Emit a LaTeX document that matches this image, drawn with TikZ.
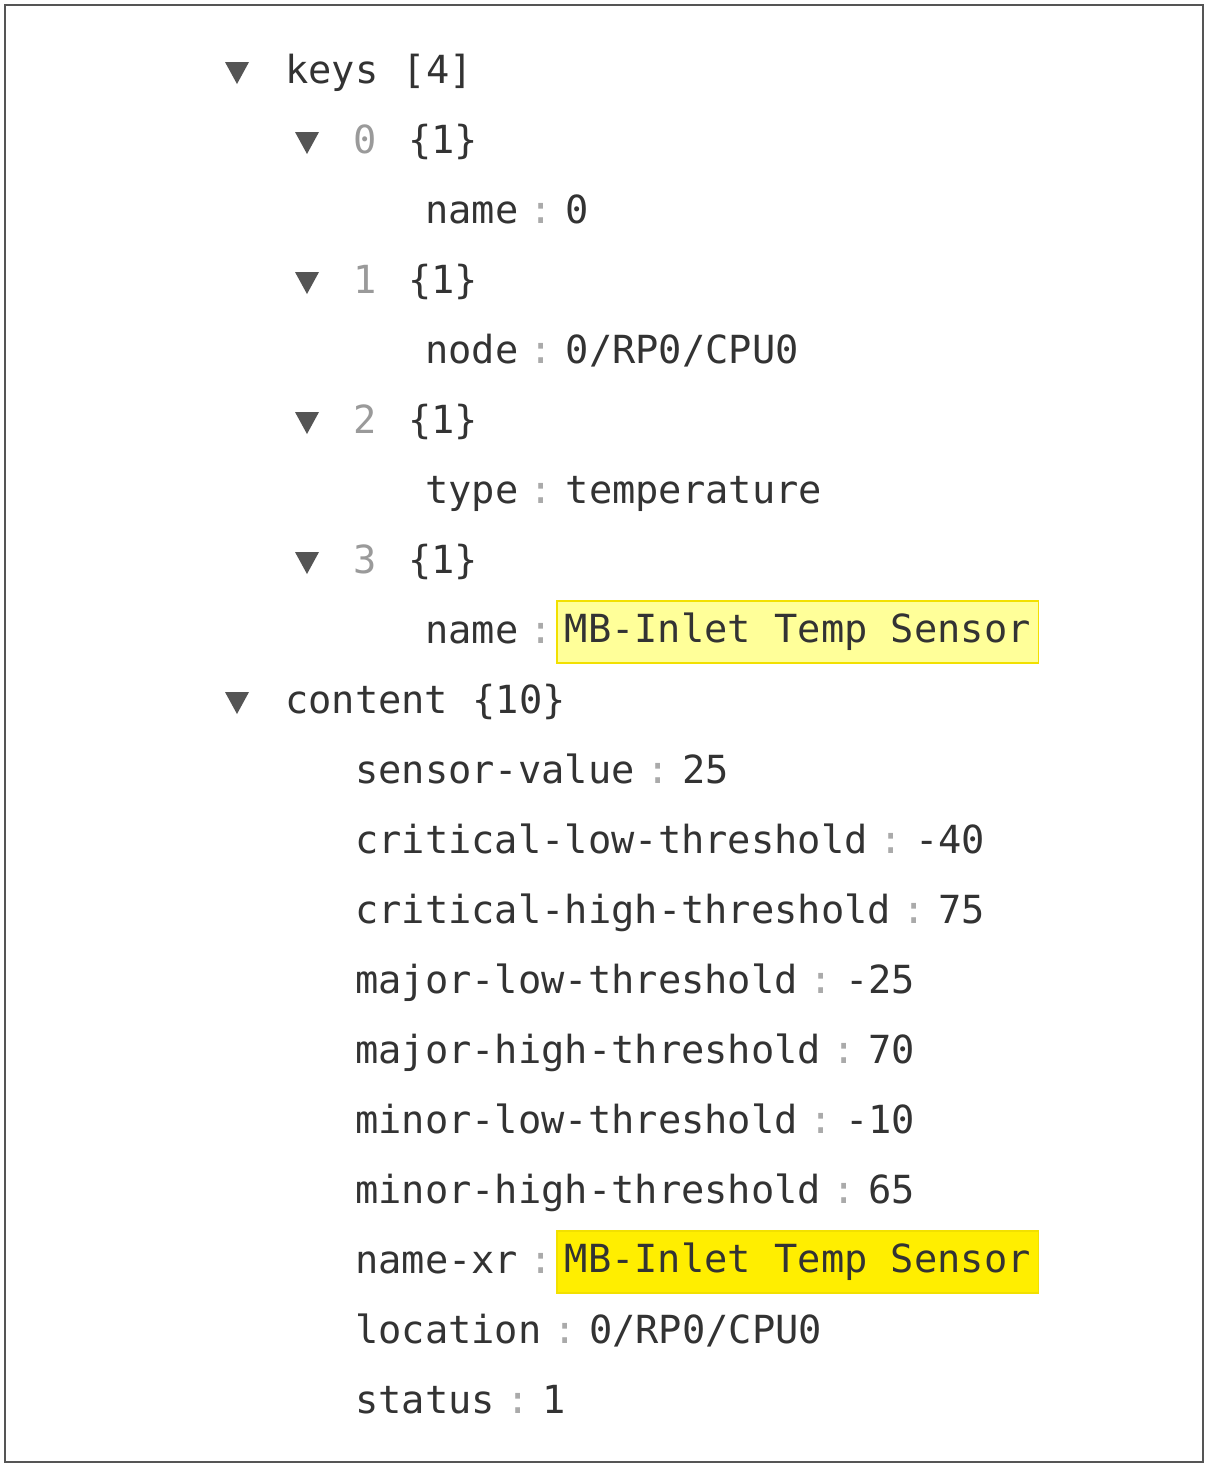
\documentclass[tikz,border=0pt]{standalone}
\usepackage{fontspec}
\setmonofont{DejaVu Sans Mono}
\definecolor{keycol}{HTML}{333333}
\definecolor{idxcol}{HTML}{9A9A9A}
\definecolor{sepcol}{HTML}{AAAAAA}
\definecolor{tricol}{HTML}{555555}
\definecolor{hlpale}{HTML}{FFFF99}
\definecolor{hlbold}{HTML}{FFEE00}
\definecolor{hledge}{HTML}{F2E000}
\tikzset{
  txt/.style={anchor=west, inner sep=0pt, text height=28pt, text depth=7pt,
    font=\ttfamily\fontsize{38.7}{42}\selectfont, text=keycol},
  idx/.style={txt, text=idxcol},
  sep/.style={txt, text=sepcol, anchor=center},
  hl/.style={txt, draw=hledge, line width=1.5pt, inner xsep=8pt, minimum height=62pt, fill=#1},
  tri/.style={fill=tricol}
}
\newcommand{\kv}[5]{% name, x, y, key, value
  \node[txt] (#1k) at (#2,#3) {#4};
  \node[sep, right=23pt of #1k.east, anchor=center] (#1s) {:};
  \node[txt, right=47pt of #1k.east, anchor=west] (#1v) {#5};
}
\newcommand{\tri}[2]{\fill[tri] (#1-12,#2-11) -- (#1+12,#2-11) -- (#1,#2+11) -- cycle;}
\usetikzlibrary{positioning}
\begin{document}
\begin{tikzpicture}[x=1pt,y=-1pt]
  \useasboundingbox (0,0) rectangle (1209,1468);
  \fill[white] (0,0) rectangle (1209,1468);
  \draw[tricol, line width=2pt] (5,5) rectangle (1203,1462);

  % keys
  \tri{237}{73}
  \node[txt] (keys) at (285,73) {keys};
  \node[txt, right=24pt of keys.east, anchor=west] (keysn) {[4]};

  \tri{307}{143}
  \node[idx] (i0) at (353,143) {0};
  \node[txt] (i0n) at (408,143) {\{1\}};
  \kv{a}{425}{213}{name}{0}

  \tri{307}{283}
  \node[idx] (i1) at (353,283) {1};
  \node[txt] (i1n) at (408,283) {\{1\}};
  \kv{b}{425}{353}{node}{0/RP0/CPU0}

  \tri{307}{423}
  \node[idx] (i2) at (353,423) {2};
  \node[txt] (i2n) at (408,423) {\{1\}};
  \kv{c}{425}{493}{type}{temperature}

  \tri{307}{563}
  \node[idx] (i3) at (353,563) {3};
  \node[txt] (i3n) at (408,563) {\{1\}};
  \node[txt] (dk) at (425,633) {name};
  \node[sep, right=23pt of dk.east, anchor=center] (ds) {:};
  \node[hl=hlpale, anchor=west] (dv) at (556,632) {MB-Inlet Temp Sensor};

  % content
  \tri{237}{703}
  \node[txt] (content) at (285,703) {content};
  \node[txt, right=24pt of content.east, anchor=west] (contentn) {\{10\}};

  \kv{e}{355}{773}{sensor-value}{25}
  \kv{f}{355}{843}{critical-low-threshold}{-40}
  \kv{g}{355}{913}{critical-high-threshold}{75}
  \kv{h}{355}{983}{major-low-threshold}{-25}
  \kv{i}{355}{1053}{major-high-threshold}{70}
  \kv{j}{355}{1123}{minor-low-threshold}{-10}
  \kv{k}{355}{1193}{minor-high-threshold}{65}
  \node[txt] (lk) at (355,1263) {name-xr};
  \node[sep, right=23pt of lk.east, anchor=center] (ls) {:};
  \node[hl=hlbold, anchor=west] (lv) at (556,1262) {MB-Inlet Temp Sensor};
  \kv{m}{355}{1333}{location}{0/RP0/CPU0}
  \kv{n}{355}{1403}{status}{1}
\end{tikzpicture}
\end{document}
